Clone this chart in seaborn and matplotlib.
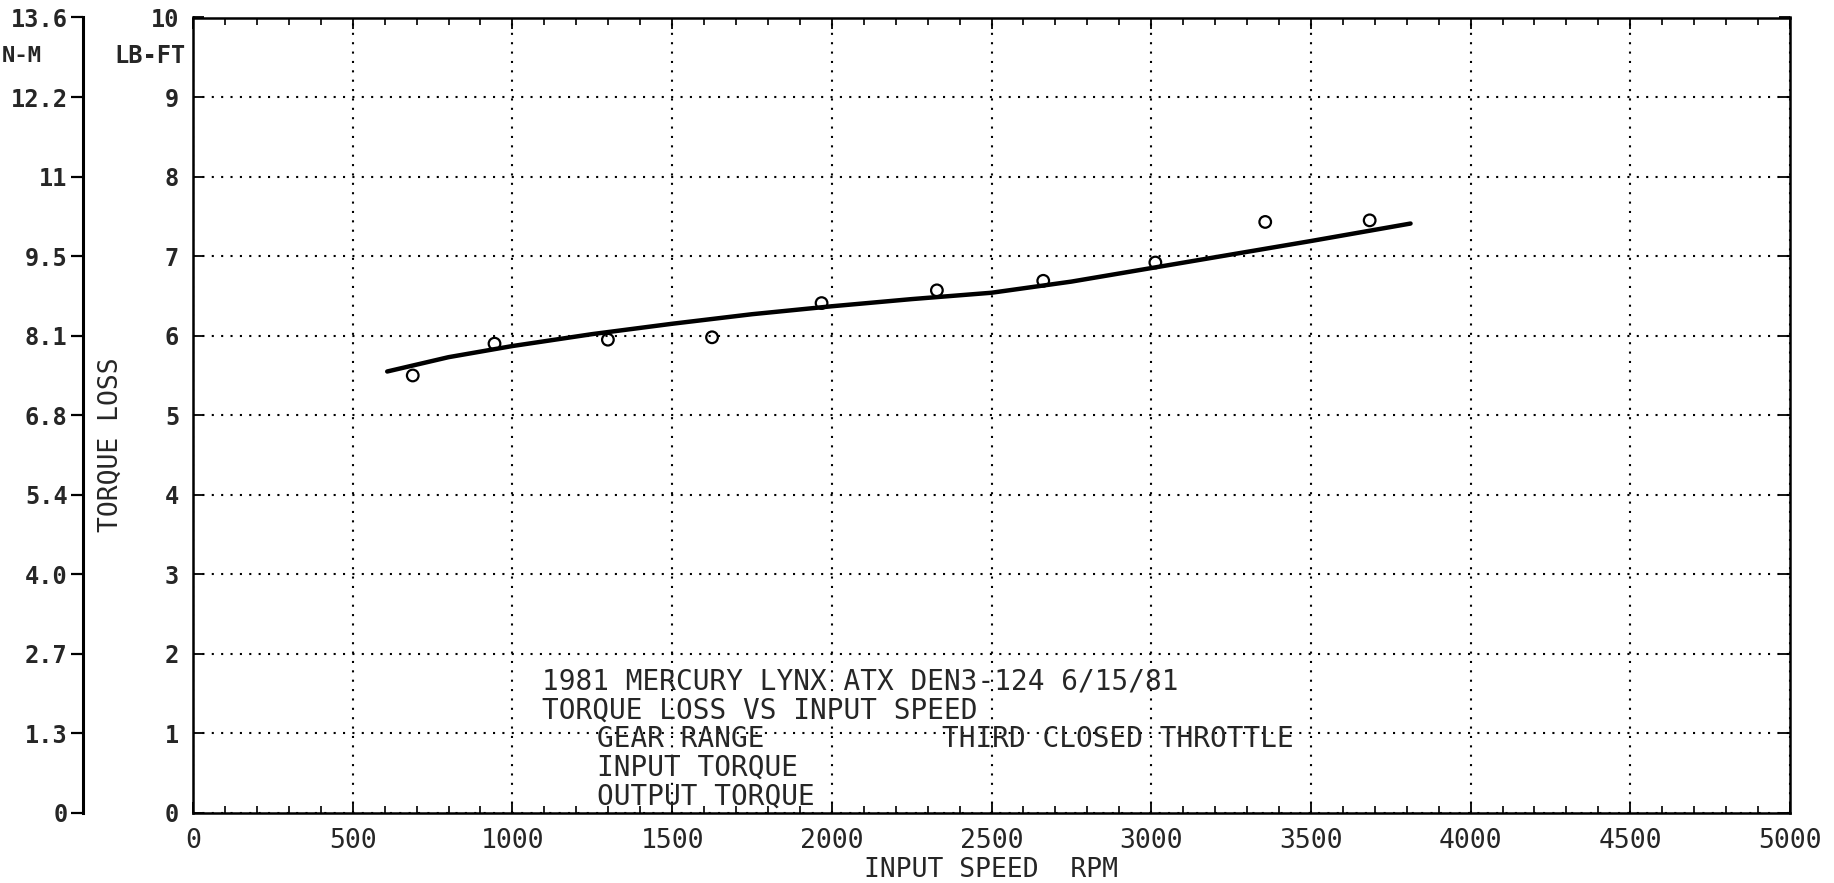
import numpy as np
import matplotlib
matplotlib.use("Agg")
import matplotlib.pyplot as plt
from matplotlib.ticker import MultipleLocator
import seaborn as sns

# measured points (input speed rpm, torque loss lb-ft)
speed_rpm = [688, 944, 1299, 1625, 1968, 2329, 2662, 3013, 3357, 3684]
torque_loss = [5.50, 5.90, 5.95, 5.98, 6.41, 6.57, 6.69, 6.92, 7.43, 7.45]

# fitted curve
fit_rpm = [608, 800, 1000, 1250, 1500, 1750, 2000, 2250, 2500, 2750, 3000, 3250, 3500, 3812]
fit_loss = [5.55, 5.73, 5.87, 6.02, 6.15, 6.27, 6.37, 6.46, 6.54, 6.68, 6.85, 7.02, 7.19, 7.41]

lbft_ticks = [0, 1, 2, 3, 4, 5, 6, 7, 8, 9, 10]
nm_labels = ["0", "1.3", "2.7", "4.0", "5.4", "6.8", "8.1", "9.5", "11", "12.2", "13.6"]
rpm_ticks = list(range(0, 5001, 500))

note_lines = ["1981 MERCURY LYNX ATX DEN3-124 6/15/81",
              "TORQUE LOSS VS INPUT SPEED"]
note_rows = [("GEAR RANGE", "THIRD CLOSED THROTTLE"),
             ("INPUT TORQUE", ""),
             ("OUTPUT TORQUE", "")]

sns.set_style("white")
plt.rcParams["font.family"] = ["DejaVu Sans Mono"]

fig = plt.figure(figsize=(18.34, 8.83), dpi=100)
L, R, B, T = 193 / 1834, 1790 / 1834, 1 - 813 / 883, 1 - 17.5 / 883
ax = fig.add_axes([L, B, R - L, T - B])

sns.lineplot(x=fit_rpm, y=fit_loss, ax=ax, color="black", linewidth=3.2)
sns.scatterplot(x=speed_rpm, y=torque_loss, ax=ax, marker="o", s=70,
                facecolor="none", edgecolor="black", linewidth=1.6, zorder=5)

ax.set_xlim(0, 5000)
ax.set_ylim(0, 10)
ax.set_xticks(rpm_ticks)
ax.set_xticklabels([str(v) for v in rpm_ticks], fontsize=19)
ax.xaxis.set_minor_locator(MultipleLocator(100))
ax.set_yticks(lbft_ticks)
ax.set_yticklabels([str(v) for v in lbft_ticks], fontsize=17, fontweight="bold")
ax.tick_params(axis="both", which="major", direction="in", length=8, width=1.3,
               color="black", bottom=True, left=True, top=True, right=True)
ax.tick_params(axis="x", which="major", pad=11)
ax.tick_params(axis="y", which="major", pad=10)
ax.tick_params(axis="x", which="minor", direction="in", length=5, width=1.2,
               color="black", bottom=True, top=True)
ax.grid(True, which="major", color="black", linestyle=(0, (1, 3.5)), linewidth=1.5)
for s in ax.spines.values():
    s.set_color("black")
    s.set_linewidth(1.8)
ax.set_xlabel("INPUT SPEED  RPM", fontsize=19, labelpad=2)
ax.set_ylabel("")

# annotation block
fs = 20
ax.text(1092, 1.65, note_lines[0], fontsize=fs, va="center", ha="left")
ax.text(1092, 1.29, note_lines[1], fontsize=fs, va="center", ha="left")
for i, (left, right) in enumerate(note_rows):
    yy = 0.93 - 0.36 * i
    ax.text(1264, yy, left, fontsize=fs, va="center", ha="left")
    if right:
        ax.text(2344, yy, right, fontsize=fs, va="center", ha="left")

# secondary N-M scale on the far left
ax2 = fig.add_axes([83 / 1834, B, 0.0005, T - B])
ax2.set_ylim(0, 10)
ax2.set_xticks([])
ax2.set_yticks(lbft_ticks)
ax2.set_yticklabels(nm_labels, fontsize=17, fontweight="bold")
ax2.tick_params(axis="y", direction="out", length=9, width=1.6, pad=2,
                color="black", left=True)
for side in ["top", "right", "bottom"]:
    ax2.spines[side].set_visible(False)
ax2.spines["left"].set_linewidth(2.2)
ax2.spines["left"].set_color("black")
ax2.patch.set_alpha(0)

fig.text(2 / 1834, 1 - 56 / 883, "N-M", fontsize=16, fontweight="bold", va="center", ha="left")
fig.text(150 / 1834, 1 - 56 / 883, "LB-FT", fontsize=17, fontweight="bold", va="center", ha="center")
fig.text(111 / 1834, 1 - 445 / 883, "TORQUE LOSS", fontsize=19, rotation=90,
         va="center", ha="center")

fig.savefig("out.png", dpi=100)
